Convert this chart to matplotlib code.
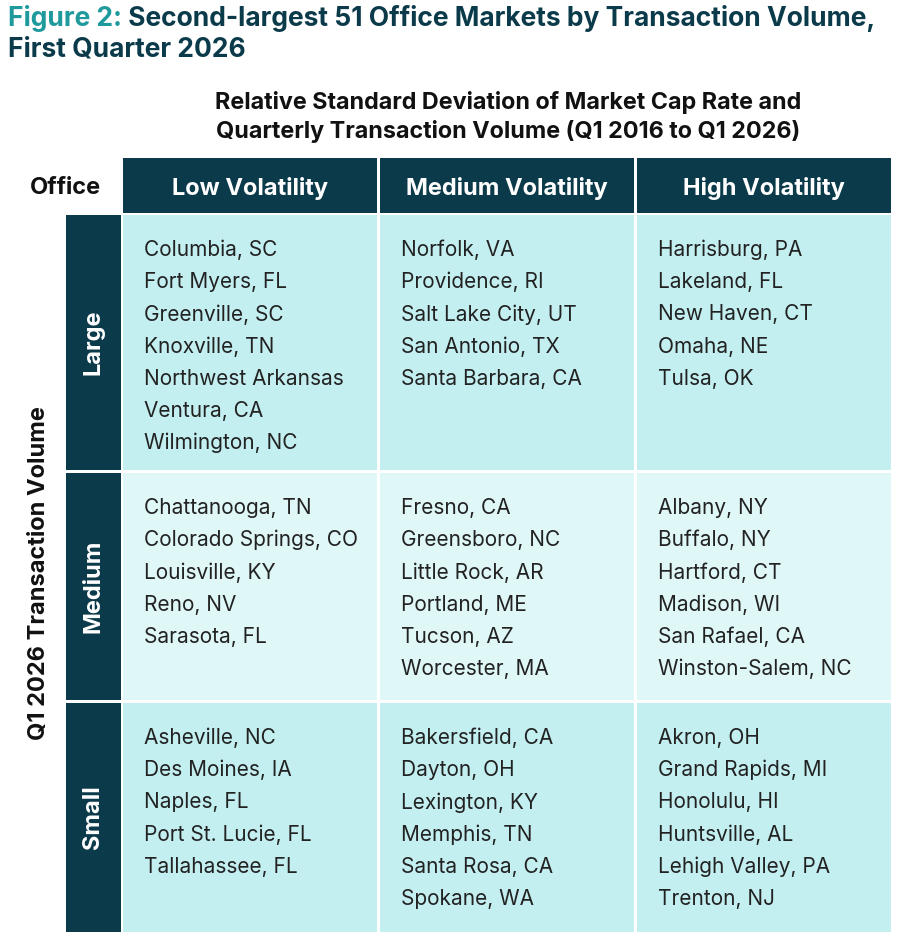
import matplotlib
matplotlib.use("Agg")
import matplotlib.pyplot as plt
from matplotlib.patches import Rectangle

plt.rcParams['font.family'] = ['Inter', 'DejaVu Sans']

title_prefix = "Figure 2:"
title_rest = " Second-largest 51 Office Markets by Transaction Volume,"
title_line2 = "First Quarter 2026"
subtitle = "Relative Standard Deviation of Market Cap Rate and\nQuarterly Transaction Volume (Q1 2016 to Q1 2026)"
corner_label = "Office"
y_title = "Q1 2026 Transaction Volume"
col_labels = ["Low Volatility", "Medium Volatility", "High Volatility"]
row_labels = ["Large", "Medium", "Small"]

large_low = ["Columbia, SC", "Fort Myers, FL", "Greenville, SC", "Knoxville, TN",
             "Northwest Arkansas", "Ventura, CA", "Wilmington, NC"]
large_med = ["Norfolk, VA", "Providence, RI", "Salt Lake City, UT", "San Antonio, TX",
             "Santa Barbara, CA"]
large_high = ["Harrisburg, PA", "Lakeland, FL", "New Haven, CT", "Omaha, NE", "Tulsa, OK"]
medium_low = ["Chattanooga, TN", "Colorado Springs, CO", "Louisville, KY", "Reno, NV",
              "Sarasota, FL"]
medium_med = ["Fresno, CA", "Greensboro, NC", "Little Rock, AR", "Portland, ME",
              "Tucson, AZ", "Worcester, MA"]
medium_high = ["Albany, NY", "Buffalo, NY", "Hartford, CT", "Madison, WI",
               "San Rafael, CA", "Winston-Salem, NC"]
small_low = ["Asheville, NC", "Des Moines, IA", "Naples, FL", "Port St. Lucie, FL",
             "Tallahassee, FL"]
small_med = ["Bakersfield, CA", "Dayton, OH", "Lexington, KY", "Memphis, TN",
             "Santa Rosa, CA", "Spokane, WA"]
small_high = ["Akron, OH", "Grand Rapids, MI", "Honolulu, HI", "Huntsville, AL",
              "Lehigh Valley, PA", "Trenton, NJ"]
cells = [[large_low, large_med, large_high],
         [medium_low, medium_med, medium_high],
         [small_low, small_med, small_high]]

DARK = "#0b3a4a"
TEAL = "#1f9a9c"
ROW_BG = ["#c4eff1", "#dff7f7", "#c4eff1"]
TXT = "#222222"

W, H = 900, 940
fig = plt.figure(figsize=(9, 9.4), dpi=100)
ax = fig.add_axes([0, 0, 1, 1])
ax.set_xlim(0, W)
ax.set_ylim(H, 0)
ax.axis("off")

# layout
col_x = [123, 380, 637]
col_w = 256
hdr_y, hdr_h = 158, 55
row_y = [215, 473, 703]
row_h = [255, 227, 229]
lab_x, lab_w = 66, 55
gap = 2

# title
TFS = 19
t1 = ax.text(8, 18, title_prefix, fontsize=TFS, fontweight="bold", color=TEAL,
             va="center", ha="left")
fig.canvas.draw()
bb = t1.get_window_extent()
inv = ax.transData.inverted()
xd = inv.transform((bb.x1, 0))[0]
ax.text(xd, 18, title_rest, fontsize=TFS, fontweight="bold", color=DARK,
        va="center", ha="left")
ax.text(8, 50, title_line2, fontsize=TFS, fontweight="bold", color=DARK,
        va="center", ha="left")

# subtitle
ax.text(508, 117, subtitle, fontsize=16.8, fontweight="bold", color="#111111",
        ha="center", va="center", linespacing=1.35)

# corner
ax.text(65, 188, corner_label, fontsize=17, fontweight="bold", color="#111111",
        ha="center", va="center")

# y title
ax.text(39, 573, y_title, fontsize=17, fontweight="bold", color="#111111",
        ha="center", va="center", rotation=90)

# headers
for j, lab in enumerate(col_labels):
    ax.add_patch(Rectangle((col_x[j], hdr_y), col_w - gap, hdr_h, color=DARK, lw=0))
    ax.text(col_x[j] + (col_w - gap) / 2, hdr_y + hdr_h / 2 + 3, lab, fontsize=17,
            fontweight="bold", color="white", ha="center", va="center")

# rows
line_sp = 32.2
for i, rl in enumerate(row_labels):
    ax.add_patch(Rectangle((lab_x, row_y[i]), lab_w, row_h[i], color=DARK, lw=0))
    ax.text(lab_x + lab_w / 2, row_y[i] + row_h[i] / 2, rl, fontsize=17,
            fontweight="bold", color="white", ha="center", va="center", rotation=90)
    for j in range(3):
        ax.add_patch(Rectangle((col_x[j], row_y[i]), col_w - gap, row_h[i],
                               color=ROW_BG[i], lw=0))
        for k, name in enumerate(cells[i][j]):
            ax.text(col_x[j] + 21, row_y[i] + 35 + k * line_sp, name, fontsize=15,
                    color=TXT, ha="left", va="center")

fig.savefig("out.png", dpi=100, facecolor="white")
